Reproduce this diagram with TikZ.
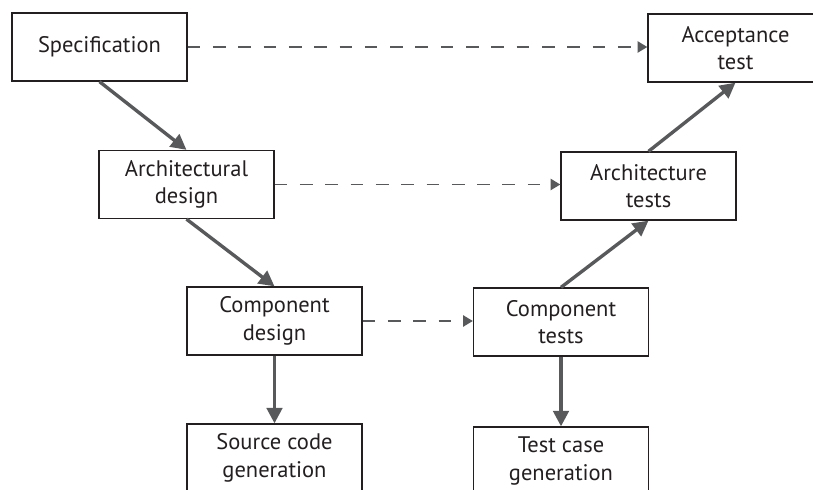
\documentclass[tikz,border=0pt]{standalone}
\usepackage{fontspec}
\setmainfont{PT Sans}
\usetikzlibrary{arrows.meta}

\definecolor{linegray}{HTML}{58595B}
\definecolor{ink}{HTML}{231F20}

\begin{document}
\begin{tikzpicture}[x=0.025cm,y=-0.025cm,
	box/.style={draw=ink,line width=0.9pt,minimum width=4.375cm,minimum height=1.7cm,
		align=center,font=\fontsize{16}{19.5}\selectfont,text=ink,inner sep=0pt},
	flow/.style={draw=linegray,line width=2.4pt,-{Triangle[length=11pt,width=11pt]}},
	link/.style={draw=linegray,line width=1.4pt,dash pattern=on 9pt off 9pt,-{Triangle[length=7pt,width=8pt]}}]
		\useasboundingbox (0,0) rectangle (813,490);
		
		% Design side
		\node[box] (spec) at (99.5,47) {Specification};
		\node[box] (archd) at (186.5,184.5) {Architectural\\design};
		\node[box] (compd) at (274.5,321) {Component\\design};
		\node[box] (src) at (274.5,458) {Source code\\generation};
		
		% Test side
		\node[box] (accept) at (735.5,48) {Acceptance\\test};
		\node[box] (archt) at (648.5,186) {Architecture\\tests};
		\node[box] (compt) at (561,322) {Component\\tests};
		\node[box] (tcase) at (561,461) {Test case\\generation};
		
		% Down the left
		\draw[flow] (spec.south) -- (archd.north);
		\draw[flow] (archd.south) -- (compd.north);
		\draw[flow] (compd.south) -- (src.north);
		
		% Up the right
		\draw[flow] (compt.south) -- (tcase.north);
		\draw[flow] (compt.north) -- (archt.south);
		\draw[flow] (archt.north) -- (accept.south);
		
		% Dashed links across
		\draw[link] (spec.east) -- (spec.east -| accept.west);
		\draw[link] (archd.east) -- (archd.east -| archt.west);
		\draw[link] (compd.east) -- (compd.east -| compt.west);
	\end{tikzpicture}
\end{document}
